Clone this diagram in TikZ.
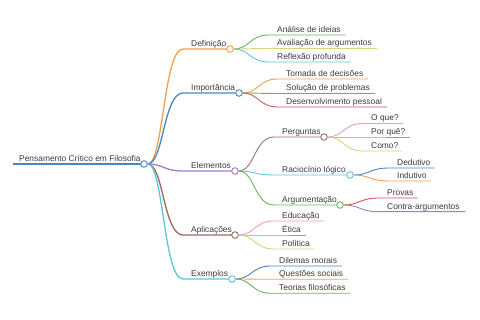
\documentclass[tikz,border=0pt]{standalone}
\usepackage{fontspec}
\setmainfont{Liberation Sans}
\usetikzlibrary{calc}
\definecolor{mmorange}{HTML}{F4A04C}
\definecolor{mmblue}{HTML}{4A86BF}
\definecolor{mmgreen}{HTML}{6CB457}
\definecolor{mmolive}{HTML}{D3D679}
\definecolor{mmcyan}{HTML}{5CC7DA}
\definecolor{mmred}{HTML}{D2565E}
\definecolor{mmpurple}{HTML}{A07DCB}
\definecolor{mmbrown}{HTML}{9A6A5E}
\definecolor{mmmauve}{HTML}{9E6F7C}
\definecolor{mmpink}{HTML}{E99BCA}
\definecolor{mmgray}{HTML}{9B9B9B}
\definecolor{ink}{HTML}{3A3A3A}

% #1 width style, #2 parent, #3 name, #4 colour, #5 text x, #6 end x, #7 y, #8 text
\newcommand{\leafnode}[8]{%
  \coordinate (#3-s) at (#5-8,#7);
  \coordinate (#3-e) at (#6,#7);
  \coordinate (#3-m) at ($(#2)!0.5!(#3-s)$);
  \draw[#1, draw=#4] (#2) .. controls (#3-m |- #2) and (#3-m |- #3-s) .. (#3-s) -- (#3-e);
  \node[txt] (#3-t) at (#5,#7-2.6) {#8};}
\newcommand{\branchnode}[8]{%
  \leafnode{#1}{#2}{#3}{#4}{#5}{#6}{#7}{#8}
  \node[dot, draw=#4] (#3) at (#3-e) {};}

\begin{document}
\begin{tikzpicture}[x=1pt, y=-1pt,
  font=\fontsize{8.4}{10}\selectfont,
  txt/.style={text=ink, anchor=base west, inner sep=0pt},
  dot/.style={circle, fill=white, line width=0.9pt, minimum size=6.6pt, inner sep=0pt},
  thick1/.style={line width=1.3pt},
  thin2/.style={line width=0.9pt}]
  \useasboundingbox (0,0) rectangle (480,320);

  % Root.
  \coordinate (root-s) at (13,164);
  \draw[thick1, draw=mmblue] (root-s) -- (144,164);
  \node[txt] (root-t) at (19,164-2.6) {Pensamento Crítico em Filosofia};
  \node[dot, draw=mmblue] (root) at (144,164) {};

  % First level.
  \branchnode{thick1}{root}{defin}{mmorange}{191}{230}{49}{Definição}
  \branchnode{thick1}{root}{import}{mmblue}{191}{239}{93}{Importância}
  \branchnode{thick1}{root}{elem}{mmpurple}{191}{235}{171}{Elementos}
  \branchnode{thick1}{root}{aplic}{mmbrown}{191}{235}{235}{Aplicações}
  \branchnode{thick1}{root}{exemp}{mmcyan}{191}{232}{279}{Exemplos}

  % Definição.
  \leafnode{thin2}{defin}{analise}{mmgreen}{277}{346}{35}{Análise de ideias}
  \leafnode{thin2}{defin}{avalia}{mmolive}{277}{377}{48.5}{Avaliação de argumentos}
  \leafnode{thin2}{defin}{reflex}{mmcyan}{277}{351}{62}{Reflexão profunda}

  % Importância.
  \leafnode{thin2}{import}{tomada}{mmorange}{286}{368}{79}{Tomada de decisões}
  \leafnode{thin2}{import}{solucao}{mmgreen}{286}{375}{93.5}{Solução de problemas}
  \leafnode{thin2}{import}{desenv}{mmred}{286}{387}{107}{Desenvolvimento pessoal}

  % Elementos.
  \branchnode{thin2}{elem}{pergs}{mmmauve}{282}{324}{137}{Perguntas}
  \branchnode{thin2}{elem}{racioc}{mmcyan}{282}{350}{175}{Raciocínio lógico}
  \branchnode{thin2}{elem}{argum}{mmgreen}{282}{340}{205}{Argumentação}

  \leafnode{thin2}{pergs}{oque}{mmpink}{371}{403}{123.5}{O que?}
  \leafnode{thin2}{pergs}{porque}{mmgray}{371}{410}{137}{Por quê?}
  \leafnode{thin2}{pergs}{como}{mmolive}{371}{403}{151}{Como?}

  \leafnode{thin2}{racioc}{dedut}{mmblue}{397}{434}{168}{Dedutivo}
  \leafnode{thin2}{racioc}{indut}{mmorange}{397}{431}{181}{Indutivo}

  \leafnode{thin2}{argum}{provas}{mmred}{387}{418}{198}{Provas}
  \leafnode{thin2}{argum}{contra}{mmpurple}{387}{465}{211.7}{Contra-argumentos}

  % Aplicações.
  \leafnode{thin2}{aplic}{educ}{mmpink}{282}{324}{221}{Educação}
  \leafnode{thin2}{aplic}{etica}{mmgray}{282}{306}{235}{Ética}
  \leafnode{thin2}{aplic}{polit}{mmolive}{282}{315}{249}{Política}

  % Exemplos.
  \leafnode{thin2}{exemp}{dilemas}{mmblue}{279}{342}{266}{Dilemas morais}
  \leafnode{thin2}{exemp}{questoes}{mmorange}{279}{348}{279.3}{Questões sociais}
  \leafnode{thin2}{exemp}{teorias}{mmgreen}{279}{350}{293.3}{Teorias filosóficas}
\end{tikzpicture}
\end{document}
